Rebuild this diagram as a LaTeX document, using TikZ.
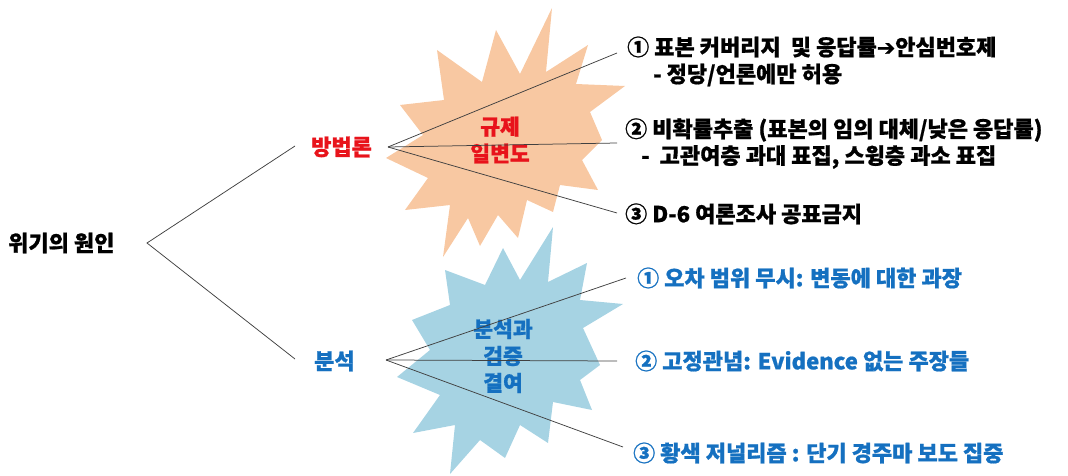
\documentclass[tikz,border=0pt]{standalone}
\usepackage{fontspec}
\setmainfont{Noto Sans CJK KR}[BoldFeatures={FakeBold=0.8}]
\newfontfamily\symfont{DejaVu Sans}[FakeBold=1.2]
\definecolor{kred}{HTML}{E8131B}
\definecolor{kblue}{HTML}{1570C0}
\definecolor{starO}{HTML}{F8C8A2}
\definecolor{starB}{HTML}{A6D3E3}
\tikzset{
  lbl/.style={inner sep=0pt, anchor=west, font=\bfseries\fontsize{22}{26}\selectfont},
  starlbl/.style={inner sep=0pt, align=center, font=\bfseries\fontsize{21.5}{27}\selectfont},
  conn/.style={draw=black!75, line width=0.75pt},
}
\begin{document}
\begin{tikzpicture}[x=1pt,y=-1pt]
\useasboundingbox (0,0) rectangle (1068,476);
% orange starburst
\fill[starO] (552,8) -- (546,72) -- (588,45) -- (576,84) -- (625,86) -- (590,112)
  -- (602,140) -- (582,160) -- (598,190) -- (560,185) -- (553,212) -- (527,200)
  -- (518,238) -- (498,215) -- (480,246) -- (468,218) -- (443,257) -- (450,205)
  -- (405,210) -- (428,178) -- (386,158) -- (423,135) -- (400,105) -- (444,100)
  -- (437,50) -- (482,82) -- (496,30) -- (520,74) -- cycle;
% blue starburst
\fill[starB] (553,227) -- (548,282) -- (587,263) -- (580,300) -- (623,304) -- (583,328)
  -- (600,365) -- (580,380) -- (592,410) -- (553,402) -- (548,443) -- (520,425)
  -- (505,458) -- (480,440) -- (450,474) -- (455,425) -- (413,433) -- (440,395)
  -- (397,377) -- (430,350) -- (412,320) -- (450,305) -- (445,270) -- (485,285)
  -- (503,248) -- (520,280) -- cycle;
% star texts
\node[starlbl, text=kred] (sO) at (500,140) {규제\\일변도};
\node[starlbl, text=kblue] (sB) at (503,356) {분석과\\검증\\결여};
% main nodes
\node[lbl] (root) at (8,243) {위기의 원인};
\node[lbl, text=kred] (m) at (311,147) {방법론};
\node[lbl, text=kblue] (a) at (314,361) {분석};
% items
\node[lbl] (t1) at (627,47) {① 표본 커버리지\ \ 및 응답률{\symfont ➔}안심번호제};
\node[lbl] (t1b) at (653,75) {- 정당/언론에만 허용};
\node[lbl] (t2) at (625,130) {② 비확률추출 (표본의 임의 대체/낮은 응답률)};
\node[lbl] (t2b) at (641,157) {-\ \ 고관여층 과대 표집, 스윙층 과소 표집};
\node[lbl] (t3) at (625,214) {③ D-6 여론조사 공표금지};
\node[lbl, text=kblue] (b1) at (637,278) {① 오차 범위 무시: 변동에 대한 과장};
\node[lbl, text=kblue] (b2) at (635,361) {② 고정관념: Evidence 없는 주장들};
\node[lbl, text=kblue] (b3) at (633,453) {③ 황색 저널리즘 : 단기 경주마 보도 집중};
% connector points
\coordinate (rh) at (147,243);
\coordinate (me) at (295,146);
\coordinate (ae) at (295,359);
\coordinate (mh) at (388,147);
\coordinate (ah) at (386,360);
\coordinate (e1) at (617,53);
\coordinate (e2) at (617,143);
\coordinate (e3) at (617,213);
\coordinate (f1) at (626,278);
\coordinate (f2) at (617,361);
\coordinate (f3) at (623,447);
\draw[conn] (me) -- (rh) -- (ae);
\draw[conn] (mh) -- (e1);
\draw[conn] (mh) -- (e2);
\draw[conn] (mh) -- (e3);
\draw[conn] (ah) -- (f1);
\draw[conn] (ah) -- (f2);
\draw[conn] (ah) -- (f3);
\end{tikzpicture}
\end{document}
